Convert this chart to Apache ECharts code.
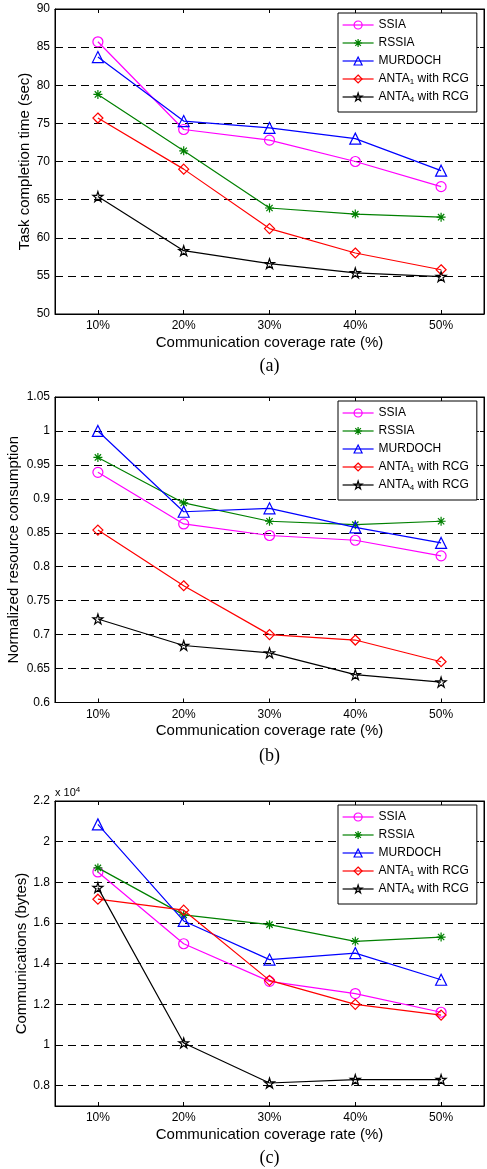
<!DOCTYPE html>
<html>
<head>
<meta charset="utf-8">
<script src="https://cdn.jsdelivr.net/npm/echarts@6/dist/echarts.min.js"></script>
<style>
html,body{margin:0;padding:0;background:#fff;}
#chart{width:487px;height:1169px;}
</style>
</head>
<body>
<div id="chart"></div>
<script>
// ---------- data ----------
const categories = ['10%', '20%', '30%', '40%', '50%'];
const seriesNames = ['SSIA', 'RSSIA', 'MURDOCH', 'ANTA1 with RCG', 'ANTA4 with RCG'];

// (a) Task completion time (sec)
const timeSSIA    = [85.7, 74.2, 72.8, 70.0, 66.7];
const timeRSSIA   = [78.8, 71.4, 63.9, 63.1, 62.7];
const timeMURDOCH = [83.7, 75.3, 74.4, 73.0, 68.8];
const timeANTA1   = [75.7, 69.0, 61.2, 58.0, 55.8];
const timeANTA4   = [65.4, 58.3, 56.6, 55.4, 54.9];

// (b) Normalized resource consumption
const resSSIA    = [0.939, 0.863, 0.846, 0.839, 0.816];
const resRSSIA   = [0.961, 0.894, 0.867, 0.862, 0.867];
const resMURDOCH = [1.000, 0.881, 0.886, 0.858, 0.835];
const resANTA1   = [0.854, 0.772, 0.700, 0.692, 0.660];
const resANTA4   = [0.723, 0.684, 0.673, 0.641, 0.630];

// (c) Communications (bytes), in units of 10^4
const commSSIA    = [1.851, 1.498, 1.313, 1.253, 1.161];
const commRSSIA   = [1.871, 1.640, 1.592, 1.510, 1.531];
const commMURDOCH = [2.085, 1.610, 1.420, 1.452, 1.321];
const commANTA1   = [1.717, 1.663, 1.318, 1.200, 1.147];
const commANTA4   = [1.774, 1.010, 0.813, 0.830, 0.830];

const panelData = [
  [timeSSIA, timeRSSIA, timeMURDOCH, timeANTA1, timeANTA4],
  [resSSIA, resRSSIA, resMURDOCH, resANTA1, resANTA4],
  [commSSIA, commRSSIA, commMURDOCH, commANTA1, commANTA4]
];
const yNames = ['Task completion time (sec)', 'Normalized resource consumption', 'Communications (bytes)'];
const xName = 'Communication coverage rate (%)';
const captions = ['(a)', '(b)', '(c)'];

// ---------- styles ----------
const SANS = 'Liberation Sans, Arial, sans-serif';
const SERIF = 'Liberation Serif, Times New Roman, serif';
const colors = ['#ff00ff', '#008000', '#0000ff', '#ff0000', '#000000'];
const STAR = 'path://M0,-1L0.2245,-0.309L0.951,-0.309L0.363,0.118L0.588,0.809L0,0.382L-0.588,0.809L-0.363,0.118L-0.951,-0.309L-0.2245,-0.309Z';
const ASTER = 'path://M0,-10L0,10M-10,0L10,0M-7,-7L7,7M-7,7L7,-7';
const symbols = ['circle', ASTER, 'triangle', 'diamond', STAR];
const symbolSizes = [10, 9, 11, 10, 10];

const grids = [
  {left: 55, right: 3, top: 9, height: 305},
  {left: 55, right: 3, top: 397, height: 305.5},
  {left: 55, right: 3, top: 801, height: 305}
];
const yCfg = [
  {min: 50, max: 90, interval: 5},
  {min: 0.6, max: 1.05, interval: 0.05},
  {min: 0.7, max: 2.2, minInterval: 0.2, maxInterval: 0.2, splitNumber: 7}
];
const yNameGap = [23, 34, 26];
const captionTop = [357, 747, 1149];

const fmtY = v => String(+(+v).toFixed(3));

const option = {
  animation: false,
  backgroundColor: '#fff',
  grid: grids.map(g => Object.assign({show: true, borderColor: '#000', borderWidth: 1, backgroundColor: 'transparent',
    containLabel: false, outerBoundsMode: 'none'}, g)),
  title: [],
  legend: [],
  xAxis: [],
  yAxis: [],
  series: []
};

for (let p = 0; p < 3; p++) {
  // bottom x axis
  option.xAxis.push({
    type: 'category', gridIndex: p, data: categories, boundaryGap: true,
    axisLine: {show: true, lineStyle: {color: '#000', width: 1}},
    axisTick: {show: true, inside: true, alignWithLabel: true, length: 4, lineStyle: {color: '#000'}},
    axisLabel: {color: '#000', fontFamily: SANS, fontSize: 12, margin: 6},
    splitLine: {show: false},
    name: xName, nameLocation: 'middle', nameGap: 21, nameMoveOverlap: false,
    nameTextStyle: {color: '#000', fontFamily: SANS, fontSize: 15}
  });
  // top x axis (ticks only)
  option.xAxis.push({
    type: 'category', gridIndex: p, data: categories, boundaryGap: true, position: 'top',
    axisLine: {show: true, lineStyle: {color: '#000', width: 1}},
    axisTick: {show: true, inside: true, alignWithLabel: true, length: 4, lineStyle: {color: '#000'}},
    axisLabel: {show: false}, splitLine: {show: false}
  });
  // left y axis
  option.yAxis.push(Object.assign({
    type: 'value', gridIndex: p,
    axisLine: {show: true, lineStyle: {color: '#000', width: 1}},
    axisTick: {show: true, inside: true, length: 4, lineStyle: {color: '#000'}},
    axisLabel: {color: '#000', fontFamily: SANS, fontSize: 12, margin: 5, formatter: fmtY, showMinLabel: p !== 2},
    splitLine: {show: true, lineStyle: {color: '#000', width: 1, type: [8, 5]}},
    name: yNames[p], nameLocation: 'middle', nameGap: yNameGap[p], nameMoveOverlap: false,
    nameTextStyle: {color: '#000', fontFamily: SANS, fontSize: 15}
  }, yCfg[p]));
  // right y axis (ticks only)
  option.yAxis.push(Object.assign({
    type: 'value', gridIndex: p, position: 'right',
    axisLine: {show: true, lineStyle: {color: '#000', width: 1}},
    axisTick: {show: true, inside: true, length: 4, lineStyle: {color: '#000'}},
    axisLabel: {show: false}, splitLine: {show: false}
  }, yCfg[p]));

  for (let s = 0; s < 5; s++) {
    option.series.push({
      type: 'line', name: seriesNames[s],
      xAxisIndex: p * 2, yAxisIndex: p * 2,
      data: panelData[p][s],
      symbol: symbols[s], symbolSize: symbolSizes[s],
      showAllSymbol: true,
      lineStyle: {color: colors[s], width: 1.2},
      itemStyle: {color: 'rgba(0,0,0,0)', borderColor: colors[s], borderWidth: 1.2},
      emphasis: {disabled: true},
      z: 3 + s
    });
  }

  option.legend.push({
    data: seriesNames.map((n, s) => ({
      name: n,
      itemStyle: {color: 'rgba(0,0,0,0)', borderColor: colors[s], borderWidth: 1.2},
      lineStyle: {color: colors[s], width: 1.2}
    })),
    orient: 'vertical', left: 338, top: grids[p].top + 4,
    selectedMode: false,
    backgroundColor: '#fff', borderColor: '#000', borderWidth: 1,
    padding: [5, 8, 8, 4], itemGap: 4, itemWidth: 31, itemHeight: 10,
    textStyle: {color: '#000', fontFamily: SANS, fontSize: 12, lineHeight: 14,
      rich: {sub: {fontSize: 8, lineHeight: 8, padding: [6, 0, 0, 0], fontFamily: SANS, color: '#000'}}},
    formatter: name => name.replace(/ANTA(\d)/, 'ANTA{sub|$1}'),
    z: 10
  });

  option.title.push({
    text: captions[p], left: 269.5, textAlign: 'center', top: captionTop[p], padding: 0,
    textStyle: {fontFamily: SERIF, fontSize: 18, fontWeight: 'normal', color: '#000'}
  });
}

option.title.push({
  text: 'x 10{sup|4}', left: 55, top: 786, padding: 0,
  textStyle: {fontFamily: SANS, fontSize: 11, fontWeight: 'normal', color: '#000',
    rich: {sup: {fontSize: 8, verticalAlign: 'top', padding: [0, 0, 6, 0], fontFamily: SANS, color: '#000'}}}
});

const chart = echarts.init(document.getElementById('chart'), null, {renderer: 'canvas'});
chart.setOption(option);
</script>
</body>
</html>
